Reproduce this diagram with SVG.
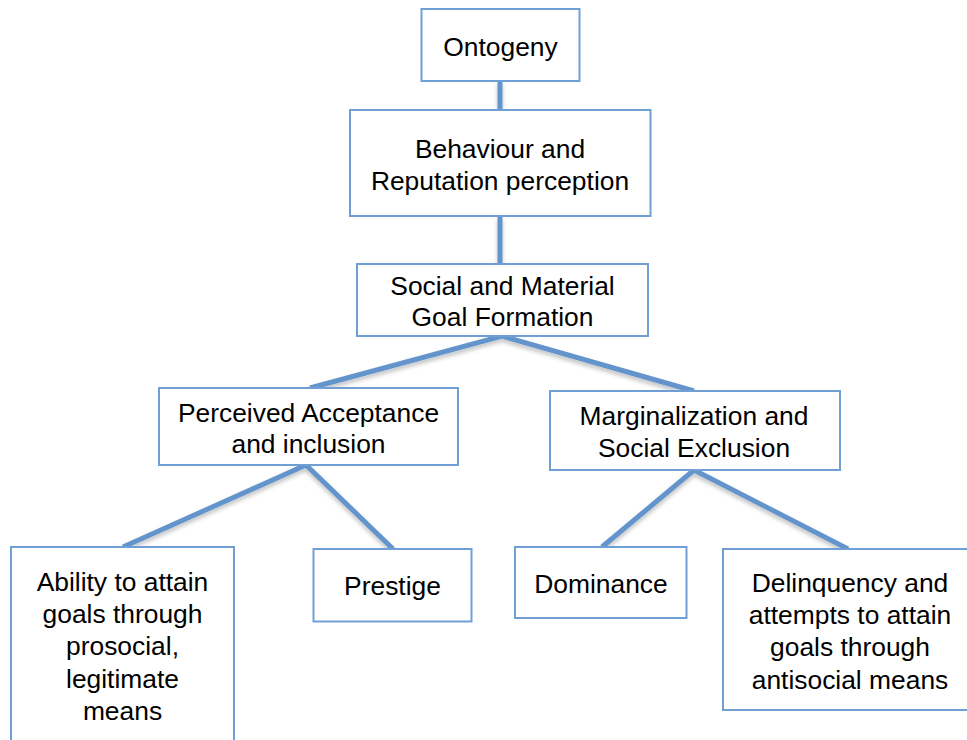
<svg xmlns="http://www.w3.org/2000/svg" width="967" height="740" viewBox="0 0 967 740">
<style>
.box{fill:#fff;stroke:#6f9fd5;stroke-width:2}
.t{font-family:"Liberation Sans",Arial,sans-serif;font-size:26.4px;fill:#000;text-anchor:middle}
.c{stroke:#6495cc;stroke-width:5;stroke-linecap:butt;fill:none}
</style>
<defs>
<filter id="sh" x="-20%" y="-20%" width="140%" height="140%">
<feDropShadow dx="0" dy="3" stdDeviation="2" flood-color="#000" flood-opacity="0.25"/>
</filter>
</defs>
<rect width="967" height="740" fill="#fff"/>
<g id="connectors" filter="url(#sh)">
<line class="c" x1="500" y1="81" x2="500" y2="110"/>
<line class="c" x1="500" y1="216" x2="500" y2="264"/>
<polyline class="c" points="310,388 502,336 694,391"/>
<polyline class="c" points="123,547 306,465 393,549"/>
<polyline class="c" points="602,547 694,470 848,549"/>
</g>
<g id="ontogeny">
<rect class="box" x="421.5" y="9" width="158" height="72"/>
<text class="t" x="500.5" y="56">Ontogeny</text>
</g>
<g id="behaviour">
<rect class="box" x="350" y="110" width="300.5" height="106"/>
<text class="t" x="500" y="158">Behaviour and</text>
<text class="t" x="500" y="190">Reputation perception</text>
</g>
<g id="social">
<rect class="box" x="357" y="264" width="291" height="72"/>
<text class="t" x="502.5" y="295">Social and Material</text>
<text class="t" x="502.5" y="326">Goal Formation</text>
</g>
<g id="perceived">
<rect class="box" x="159" y="388" width="299" height="77"/>
<text class="t" x="308.5" y="422">Perceived Acceptance</text>
<text class="t" x="308.5" y="453">and inclusion</text>
</g>
<g id="marginalization">
<rect class="box" x="550" y="391" width="290" height="79"/>
<text class="t" x="694" y="425">Marginalization and</text>
<text class="t" x="694" y="457">Social Exclusion</text>
</g>
<g id="ability">
<rect class="box" x="11" y="547" width="223" height="210"/>
<text class="t" x="122.5" y="591">Ability to attain</text>
<text class="t" x="122.5" y="623">goals through</text>
<text class="t" x="122.5" y="655">prosocial,</text>
<text class="t" x="122.5" y="688">legitimate</text>
<text class="t" x="122.5" y="720">means</text>
</g>
<g id="prestige">
<rect class="box" x="313.5" y="549" width="158" height="72.5"/>
<text class="t" x="392.5" y="595">Prestige</text>
</g>
<g id="dominance">
<rect class="box" x="515" y="547" width="171.5" height="71"/>
<text class="t" x="601" y="593">Dominance</text>
</g>
<g id="delinquency">
<rect class="box" x="723" y="549" width="260" height="161"/>
<text class="t" x="850" y="592">Delinquency and</text>
<text class="t" x="850" y="624">attempts to attain</text>
<text class="t" x="850" y="656">goals through</text>
<text class="t" x="850" y="689">antisocial means</text>
</g>
</svg>
